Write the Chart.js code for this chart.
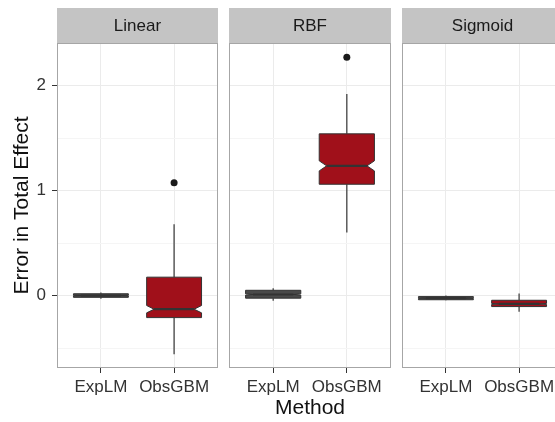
<!DOCTYPE html>
<html>
<head>
<meta charset="utf-8">
<script src="https://cdn.jsdelivr.net/npm/chart.js@4.4.1/dist/chart.umd.min.js"></script>
<style>
    body { margin: 0; background: #fff; }
    #wrap { position: relative; width: 555px; height: 422px; overflow: hidden; }
    #wrap canvas { position: absolute; left: 0; top: 0; }
</style>
</head>
<body>
<div id="wrap">
    <canvas id="linearChart" width="570" height="422"></canvas>
    <canvas id="rbfChart" width="570" height="422"></canvas>
    <canvas id="sigmoidChart" width="570" height="422"></canvas>
</div>
<script>
const methods = ['ExpLM', 'ObsGBM'];
const facetNames = ['Linear', 'RBF', 'Sigmoid'];
const yTicks = [-0.5, 0, 0.5, 1, 1.5, 2];

// [lower whisker, q1, median, q3, upper whisker] for ExpLM, ObsGBM
const linearBoxes = [[-0.03, -0.017, 0.0, 0.017, 0.03], [-0.56, -0.21, -0.13, 0.175, 0.68]];
const rbfBoxes = [[-0.05, -0.025, 0.01, 0.05, 0.07], [0.60, 1.06, 1.235, 1.54, 1.92]];
const sigmoidBoxes = [[-0.045, -0.04, -0.025, -0.01, 0.0], [-0.155, -0.105, -0.08, -0.045, 0.02]];

// notch half height around the median
const linearNotch = [0.003, 0.035];
const rbfNotch = [0.006, 0.048];
const sigmoidNotch = [0.003, 0.005];

// outlying points
const linearOutliers = [[], [1.075]];
const rbfOutliers = [[], [2.27]];
const sigmoidOutliers = [[], []];

const boxFills = ['#4a4a4a', '#A0101A'];
const fontFamily = '"Liberation Sans", Arial, Helvetica, sans-serif';
Chart.defaults.font.family = fontFamily;

const boxPlugin = {
    id: 'boxes',
    beforeDatasetsDraw(chart, args, opts) {
        const { ctx } = chart;
        const x = chart.scales.x, y = chart.scales.y;
        const half = x.getPixelForValue(1.375) - x.getPixelForValue(1);
        const inset = half * 0.27;
        opts.stats.forEach((s, i) => {
            const cx = x.getPixelForValue(i + 1);
            const lo = y.getPixelForValue(s[0]);
            const q1 = y.getPixelForValue(s[1]);
            const med = y.getPixelForValue(s[2]);
            const q3 = y.getPixelForValue(s[3]);
            const hi = y.getPixelForValue(s[4]);
            const nTop = y.getPixelForValue(s[2] + opts.notch[i]);
            const nBot = y.getPixelForValue(s[2] - opts.notch[i]);
            ctx.save();
            // whiskers
            ctx.strokeStyle = '#444';
            ctx.lineWidth = 1.3;
            ctx.beginPath();
            ctx.moveTo(cx, q3); ctx.lineTo(cx, hi);
            ctx.moveTo(cx, q1); ctx.lineTo(cx, lo);
            ctx.stroke();
            // notched box
            ctx.beginPath();
            ctx.moveTo(cx - half, q3);
            ctx.lineTo(cx + half, q3);
            ctx.lineTo(cx + half, nTop);
            ctx.lineTo(cx + half - inset, med);
            ctx.lineTo(cx + half, nBot);
            ctx.lineTo(cx + half, q1);
            ctx.lineTo(cx - half, q1);
            ctx.lineTo(cx - half, nBot);
            ctx.lineTo(cx - half + inset, med);
            ctx.lineTo(cx - half, nTop);
            ctx.closePath();
            ctx.fillStyle = opts.fills[i];
            ctx.fill();
            ctx.strokeStyle = '#333';
            ctx.lineWidth = 1;
            ctx.stroke();
            // median
            ctx.lineWidth = 2.2;
            ctx.beginPath();
            ctx.moveTo(cx - half + inset, med);
            ctx.lineTo(cx + half - inset, med);
            ctx.stroke();
            ctx.restore();
        });
    }
};

const panelPlugin = {
    id: 'panel',
    afterDraw(chart, args, opts) {
        const { ctx, chartArea: a } = chart;
        ctx.save();
        ctx.fillStyle = '#c4c4c4';
        ctx.fillRect(a.left, a.top - 35, a.right - a.left, 35);
        ctx.fillStyle = '#1a1a1a';
        ctx.font = '17px ' + fontFamily;
        ctx.textAlign = 'center';
        ctx.textBaseline = 'middle';
        ctx.fillText(opts.label, (a.left + a.right) / 2, a.top - 17);
        ctx.strokeStyle = '#a6a6a6';
        ctx.lineWidth = 1;
        ctx.strokeRect(a.left + 0.5, a.top + 0.5, a.right - a.left - 1, a.bottom - a.top - 1);
        ctx.restore();
    }
};

function makePanel(id, label, stats, notch, outliers, padLeft, padRight, first, middle) {
    const points = [];
    outliers.forEach((arr, i) => arr.forEach(v => points.push({ x: i + 1, y: v })));
    return new Chart(document.getElementById(id), {
        type: 'scatter',
        data: {
            datasets: [{
                data: points,
                pointRadius: 3.5,
                pointBackgroundColor: '#1a1a1a',
                pointBorderColor: '#1a1a1a',
                pointBorderWidth: 0
            }]
        },
        options: {
            responsive: false,
            animation: false,
            devicePixelRatio: 1,
            layout: { padding: { left: padLeft, right: padRight, top: 43, bottom: 0 } },
            plugins: {
                legend: { display: false },
                tooltip: { enabled: false },
                boxes: { stats: stats, notch: notch, fills: boxFills },
                panel: { label: label }
            },
            scales: {
                x: {
                    type: 'linear',
                    min: 0.4,
                    max: 2.6,
                    afterBuildTicks: s => { s.ticks = methods.map((m, i) => ({ value: i + 1 })); },
                    afterFit: s => { s.height = 54; },
                    ticks: {
                        callback: v => methods[v - 1],
                        color: '#333',
                        font: { size: 17 },
                        padding: 4,
                        maxRotation: 0,
                        autoSkip: false
                    },
                    grid: { color: '#ebebeb', tickColor: '#333', tickLength: 5 },
                    border: { display: false },
                    title: {
                        display: middle,
                        text: 'Method',
                        color: '#111',
                        font: { size: 21 },
                        padding: { top: 0, bottom: 1 }
                    }
                },
                y: {
                    type: 'linear',
                    min: -0.69,
                    max: 2.405,
                    afterBuildTicks: s => { s.ticks = yTicks.map(v => ({ value: v })); },
                    afterFit: s => { s.width = first ? 57 : 0; },
                    ticks: {
                        display: first,
                        callback: v => Number.isInteger(v) ? String(v) : '',
                        color: '#333',
                        font: { size: 17 },
                        padding: 6
                    },
                    grid: {
                        color: c => Number.isInteger(c.tick.value) ? '#ebebeb' : '#f5f5f5',
                        drawTicks: first,
                        tickColor: c => Number.isInteger(c.tick.value) ? '#333' : 'rgba(0,0,0,0)',
                        tickLength: 5
                    },
                    border: { display: false },
                    title: {
                        display: first,
                        text: 'Error in Total Effect',
                        color: '#111',
                        font: { size: 21 },
                        padding: { top: 10, bottom: 0 }
                    }
                }
            }
        },
        plugins: [boxPlugin, panelPlugin]
    });
}

makePanel('linearChart', facetNames[0], linearBoxes, linearNotch, linearOutliers, 0, 352, true, false);
makePanel('rbfChart', facetNames[1], rbfBoxes, rbfNotch, rbfOutliers, 229, 179, false, true);
makePanel('sigmoidChart', facetNames[2], sigmoidBoxes, sigmoidNotch, sigmoidOutliers, 402, 7, false, false);
</script>
</body>
</html>
